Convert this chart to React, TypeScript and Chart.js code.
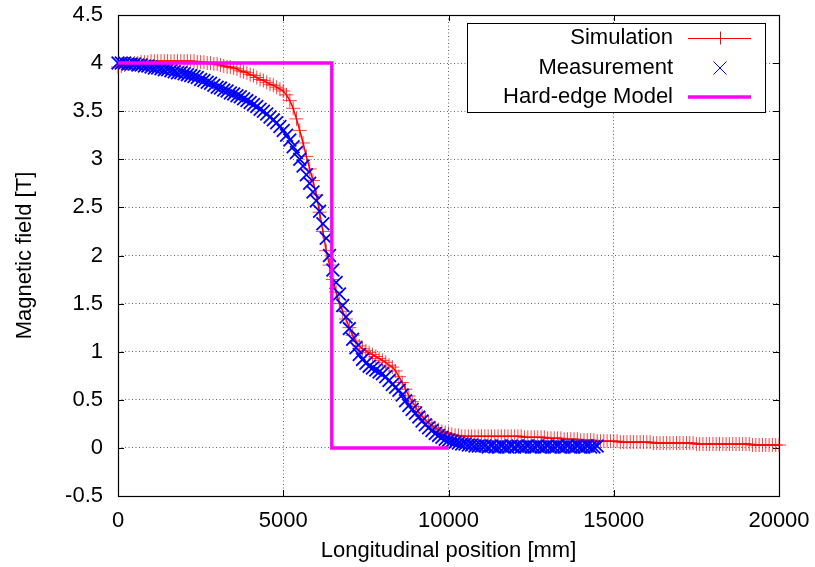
import React, { useEffect, useRef } from "react";
import { Chart, registerables } from "chart.js";

Chart.register(...registerables);

// ---- Data ----
// Simulation: sampled every 100 mm from 0 to 20000 mm
const SIM_START_MM = 0;
const SIM_STEP_MM = 100;
const SIM_FIELD = [
  3.96, 3.97, 3.98, 3.99, 3.99, 4.0, 4.0, 4.01, 4.01, 4.01,
  4.02, 4.02, 4.02, 4.02, 4.02, 4.02, 4.02, 4.02, 4.02, 4.02,
  4.02, 4.02, 4.02, 4.02, 4.01, 4.01, 4.01, 4.0, 4.0, 3.99,
  3.99, 3.98, 3.97, 3.96, 3.96, 3.95, 3.94, 3.92, 3.91, 3.9,
  3.88, 3.87, 3.85, 3.83, 3.82, 3.8, 3.78, 3.77, 3.75, 3.73,
  3.71, 3.67, 3.61, 3.53, 3.42, 3.3, 3.17, 3.03, 2.9, 2.78,
  2.63, 2.45, 2.25, 2.05, 1.9, 1.75, 1.62, 1.5, 1.42, 1.34,
  1.25, 1.17, 1.11, 1.06, 1.03, 1.01, 0.99, 0.97, 0.95, 0.93,
  0.91, 0.89, 0.86, 0.84, 0.8, 0.74, 0.68, 0.61, 0.54, 0.48,
  0.43, 0.37, 0.33, 0.29, 0.26, 0.23, 0.21, 0.19, 0.17, 0.16,
  0.15, 0.14, 0.13, 0.13, 0.12, 0.12, 0.12, 0.12, 0.12, 0.12,
  0.12, 0.12, 0.12, 0.12, 0.12, 0.12, 0.12, 0.12, 0.12, 0.12,
  0.12, 0.12, 0.12, 0.11, 0.11, 0.11, 0.11, 0.11, 0.11, 0.11,
  0.1, 0.1, 0.1, 0.1, 0.1, 0.09, 0.09, 0.09, 0.09, 0.09,
  0.08, 0.08, 0.08, 0.08, 0.08, 0.07, 0.07, 0.07, 0.07, 0.07,
  0.07, 0.07, 0.06, 0.06, 0.06, 0.06, 0.06, 0.06, 0.06, 0.06,
  0.06, 0.06, 0.05, 0.05, 0.05, 0.05, 0.05, 0.05, 0.05, 0.05,
  0.05, 0.05, 0.05, 0.05, 0.05, 0.04, 0.04, 0.04, 0.04, 0.04,
  0.04, 0.04, 0.04, 0.04, 0.04, 0.04, 0.04, 0.04, 0.04, 0.04,
  0.04, 0.04, 0.03, 0.03, 0.03, 0.03, 0.03, 0.03, 0.03, 0.03,
  0.03,
];

// Measurement: sampled every 100 mm from 0 to 14500 mm
const MEAS_START_MM = 0;
const MEAS_STEP_MM = 100;
const MEAS_FIELD = [
  4.0, 4.0, 4.0, 3.99, 3.99, 3.99, 3.98, 3.98, 3.97, 3.97,
  3.96, 3.95, 3.95, 3.94, 3.93, 3.93, 3.92, 3.91, 3.9, 3.9,
  3.89, 3.88, 3.87, 3.86, 3.85, 3.83, 3.82, 3.8, 3.79, 3.77,
  3.75, 3.74, 3.72, 3.71, 3.69, 3.68, 3.66, 3.65, 3.63, 3.61,
  3.59, 3.57, 3.55, 3.52, 3.5, 3.47, 3.44, 3.41, 3.38, 3.34,
  3.3, 3.25, 3.2, 3.13, 3.07, 3.0, 2.93, 2.84, 2.75, 2.66,
  2.57, 2.46, 2.33, 2.18, 2.0, 1.85, 1.72, 1.6, 1.48, 1.36,
  1.24, 1.13, 1.04, 0.97, 0.92, 0.88, 0.85, 0.83, 0.81, 0.79,
  0.77, 0.74, 0.7, 0.66, 0.63, 0.6, 0.55, 0.49, 0.44, 0.4,
  0.36, 0.32, 0.28, 0.24, 0.21, 0.18, 0.15, 0.13, 0.11, 0.09,
  0.08, 0.07, 0.06, 0.05, 0.04, 0.04, 0.03, 0.03, 0.02, 0.02,
  0.02, 0.02, 0.01, 0.02, 0.01, 0.01, 0.02, 0.01, 0.01, 0.02,
  0.01, 0.02, 0.01, 0.01, 0.02, 0.01, 0.01, 0.02, 0.01, 0.01,
  0.02, 0.01, 0.01, 0.02, 0.01, 0.01, 0.02, 0.01, 0.01, 0.02,
  0.01, 0.01, 0.02, 0.01, 0.01, 0.02,
];

// Hard-edge model
const HARD_X = [0, 6470, 6470, 10000];
const HARD_Y = [4, 4, 0, 0];

// Axes
const X_MIN = 0;
const X_MAX = 20000;
const X_STEP = 5000;
const Y_MIN = -0.5;
const Y_MAX = 4.5;
const Y_STEP = 0.5;

const X_TITLE = "Longitudinal position [mm]";
const Y_TITLE = "Magnetic field [T]";
const LEGEND_LABELS = ["Simulation", "Measurement", "Hard-edge Model"];

const FONT_FAMILY = "'Liberation Sans', Arial, Helvetica, sans-serif";
const RED = "#ff0000";
const BLUE = "#0000ff";
const MAGENTA = "#ff00ff";

const simPoints = SIM_FIELD.map((y, i) => ({ x: SIM_START_MM + i * SIM_STEP_MM, y }));
const measPoints = MEAS_FIELD.map((y, i) => ({ x: MEAS_START_MM + i * MEAS_STEP_MM, y }));
const hardPoints = HARD_X.map((x, i) => ({ x, y: HARD_Y[i] }));

const zeroPad = (s: any) => {
  s.paddingTop = 0;
  s.paddingBottom = 0;
  s.paddingLeft = 0;
  s.paddingRight = 0;
};

const gnuplotDecor = {
  id: "gnuplotDecor",
  beforeDatasetsDraw(chart: any) {
    const { ctx, chartArea } = chart;
    const { left, right, top, bottom } = chartArea;
    const xs = chart.scales.x;
    const ys = chart.scales.y;
    ctx.save();
    ctx.strokeStyle = "#000";
    ctx.lineWidth = 1;
    const tl = 6;
    ctx.beginPath();
    for (let v = X_MIN; v <= X_MAX; v += X_STEP) {
      const p = Math.round(xs.getPixelForValue(v)) + 0.5;
      ctx.moveTo(p, bottom);
      ctx.lineTo(p, bottom - tl);
      ctx.moveTo(p, top);
      ctx.lineTo(p, top + tl);
    }
    for (let i = 0; i <= Math.round((Y_MAX - Y_MIN) / Y_STEP); i++) {
      const v = Y_MIN + i * Y_STEP;
      const p = Math.round(ys.getPixelForValue(v)) + 0.5;
      ctx.moveTo(left, p);
      ctx.lineTo(left + tl, p);
      ctx.moveTo(right, p);
      ctx.lineTo(right - tl, p);
    }
    ctx.stroke();
    ctx.lineWidth = 1.2;
    ctx.strokeRect(Math.round(left) + 0.5, Math.round(top) + 0.5, Math.round(right - left), Math.round(bottom - top));
    ctx.restore();
  },
  afterDraw(chart: any) {
    const { ctx, chartArea } = chart;
    const { left, right, top, bottom } = chartArea;
    ctx.save();
    ctx.fillStyle = "#000";
    ctx.font = `22px ${FONT_FAMILY}`;
    ctx.textAlign = "center";
    ctx.textBaseline = "middle";
    ctx.fillText(X_TITLE, (left + right) / 2, 551);
    ctx.save();
    ctx.translate(25, (top + bottom) / 2);
    ctx.rotate(-Math.PI / 2);
    ctx.fillText(Y_TITLE, 0, 0);
    ctx.restore();

    // legend box
    const bx = 467.5, by = 23.5, bw = 298, bh = 89;
    ctx.fillStyle = "#fff";
    ctx.fillRect(bx, by, bw, bh);
    ctx.strokeStyle = "#000";
    ctx.lineWidth = 1;
    ctx.strokeRect(bx, by, bw, bh);

    const rows = [38, 68, 97];
    const textRight = 673;
    const s0 = 688, s1 = 751, sc = 720;
    ctx.fillStyle = "#000";
    ctx.textAlign = "right";
    ctx.textBaseline = "middle";
    LEGEND_LABELS.forEach((lab, i) => ctx.fillText(lab, textRight, rows[i]));

    ctx.strokeStyle = RED;
    ctx.lineWidth = 1;
    ctx.beginPath();
    ctx.moveTo(s0, rows[0] + 0.5);
    ctx.lineTo(s1, rows[0] + 0.5);
    ctx.moveTo(sc + 0.5, rows[0] - 6.5);
    ctx.lineTo(sc + 0.5, rows[0] + 6.5);
    ctx.stroke();

    ctx.strokeStyle = BLUE;
    ctx.lineWidth = 1;
    ctx.beginPath();
    ctx.moveTo(sc - 6.5, rows[1] - 6.5);
    ctx.lineTo(sc + 6.5, rows[1] + 6.5);
    ctx.moveTo(sc - 6.5, rows[1] + 6.5);
    ctx.lineTo(sc + 6.5, rows[1] - 6.5);
    ctx.stroke();

    ctx.strokeStyle = MAGENTA;
    ctx.lineWidth = 3.5;
    ctx.beginPath();
    ctx.moveTo(s0, rows[2]);
    ctx.lineTo(s1, rows[2]);
    ctx.stroke();
    ctx.restore();
  },
};

export default function App() {
  const canvasRef = useRef<HTMLCanvasElement | null>(null);

  useEffect(() => {
    document.body.style.margin = "0";
    const canvas = canvasRef.current;
    if (!canvas) return;
    const chart = new Chart(canvas, {
      type: "scatter",
      data: {
        datasets: [
          {
            label: LEGEND_LABELS[0],
            data: simPoints,
            showLine: true,
            borderColor: RED,
            backgroundColor: RED,
            borderWidth: 1.5,
            pointStyle: "cross",
            pointRadius: 7,
            pointBorderWidth: 1,
            pointBorderColor: "rgba(255,0,0,0.75)",
            order: 2,
            clip: false,
          } as any,
          {
            label: LEGEND_LABELS[1],
            data: measPoints,
            showLine: false,
            borderColor: BLUE,
            backgroundColor: BLUE,
            pointStyle: "crossRot",
            pointRadius: 9,
            pointBorderWidth: 1.8,
            pointBorderColor: BLUE,
            order: 1,
            clip: false,
          } as any,
          {
            label: LEGEND_LABELS[2],
            data: hardPoints,
            showLine: true,
            borderColor: MAGENTA,
            backgroundColor: MAGENTA,
            borderWidth: 3.5,
            pointRadius: 0,
            order: 0,
            clip: false,
          } as any,
        ],
      },
      options: {
        responsive: false,
        animation: false,
        events: [],
        layout: { padding: { left: 0, right: 36, top: 15, bottom: 0 } },
        plugins: {
          legend: { display: false },
          tooltip: { enabled: false },
          title: { display: false },
        },
        scales: {
          x: {
            type: "linear",
            min: X_MIN,
            max: X_MAX,
            ticks: {
              stepSize: X_STEP,
              color: "#000",
              font: { family: FONT_FAMILY, size: 22 },
              padding: 12,
              maxRotation: 0,
              callback: (v: any) => String(v),
            },
            grid: { color: "#666", lineWidth: 1, drawTicks: false },
            border: { display: false, dash: [1, 2.5] },
            afterFit: (s: any) => {
              s.height = 71;
              zeroPad(s);
            },
          },
          y: {
            type: "linear",
            min: Y_MIN,
            max: Y_MAX,
            ticks: {
              stepSize: Y_STEP,
              color: "#000",
              font: { family: FONT_FAMILY, size: 22 },
              padding: 15,
              callback: (v: any) => String(Math.round(v * 10) / 10),
            },
            grid: { color: "#666", lineWidth: 1, drawTicks: false },
            border: { display: false, dash: [1, 2.5] },
            afterFit: (s: any) => {
              s.width = 118;
              zeroPad(s);
            },
          },
        },
      },
      plugins: [gnuplotDecor],
    });
    return () => chart.destroy();
  }, []);

  return (
    <div style={{ width: 815, height: 567, background: "#fff" }}>
      <canvas ref={canvasRef} width={815} height={567} style={{ display: "block" }} />
    </div>
  );
}
